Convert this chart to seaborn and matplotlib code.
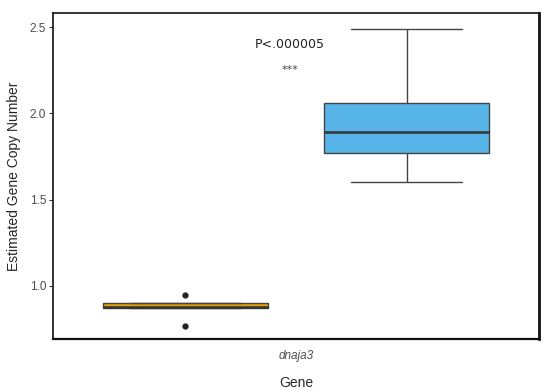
import pandas as pd
import matplotlib.pyplot as plt
import seaborn as sns

# Copy number values (two groups, one gene)
gene = "dnaja3"
group_a = [0.77, 0.87, 0.87, 0.88, 0.88, 0.88, 0.90, 0.90, 0.95]
group_b = [1.605, 1.70, 1.77, 1.83, 1.89, 1.95, 2.06, 2.25, 2.49]
groups = ["A", "B"]
colors = ["#E69F00", "#56B4E9"]

df = pd.DataFrame({
    "Gene": [gene] * (len(group_a) + len(group_b)),
    "copy": group_a + group_b,
    "group": [groups[0]] * len(group_a) + [groups[1]] * len(group_b),
})

sns.set_style("white")
plt.rcParams["font.family"] = ["Liberation Sans", "DejaVu Sans"]

fig = plt.figure(figsize=(5.5, 3.91), dpi=100)
ax = fig.add_axes([0.0964, 0.133, 0.8836, 0.834])

sns.boxplot(data=df, x="Gene", y="copy", hue="group", palette=colors,
            saturation=1, width=0.91, gap=0.25, linewidth=1,
            linecolor="#444444", legend=False, ax=ax,
            medianprops={"color": "#333333", "linewidth": 1.8},
            flierprops={"marker": "o", "markersize": 3.5,
                        "markerfacecolor": "#222222", "markeredgecolor": "#222222"})

# wider whisker caps like the original (about 2/3 of the box)
for cont in ax.containers:
    for cap in getattr(cont, "caps", []):
        xd = cap.get_xdata()
        mid = (xd[0] + xd[1]) / 2
        half = (xd[1] - xd[0]) / 2 * 1.34
        cap.set_xdata([mid - half, mid + half])

ax.set_xlim(-0.5, 0.5)
ax.set_ylim(0.692, 2.583)
ax.set_yticks([1.0, 1.5, 2.0, 2.5])
ax.set_yticklabels(["1.0", "1.5", "2.0", "2.5"])
ax.tick_params(axis="y", length=3, width=0.8, color="#333333", labelsize=8.5,
               labelcolor="#4D4D4D", pad=2, left=True)
ax.tick_params(axis="x", length=0, labelsize=8.5, labelcolor="#4D4D4D", pad=8)
for lbl in ax.get_xticklabels():
    lbl.set_fontstyle("italic")

ax.set_xlabel("Gene", fontsize=10, labelpad=10)
ax.set_ylabel("Estimated Gene Copy Number", fontsize=10, labelpad=6)

for side in ["left", "bottom", "top", "right"]:
    ax.spines[side].set_visible(True)
    ax.spines[side].set_color("#111111")
    ax.spines[side].set_linewidth(1.2)
ax.spines["right"].set_linewidth(2)
ax.spines["bottom"].set_linewidth(1.6)

ax.text(-0.012, 2.40, "P<.000005", ha="center", va="center", fontsize=9,
        family="DejaVu Sans", color="#222222")
ax.text(-0.012, 2.25, "***", ha="center", va="center", fontsize=8,
        family="DejaVu Sans", color="#444444")

fig.savefig("out.png", dpi=100)
